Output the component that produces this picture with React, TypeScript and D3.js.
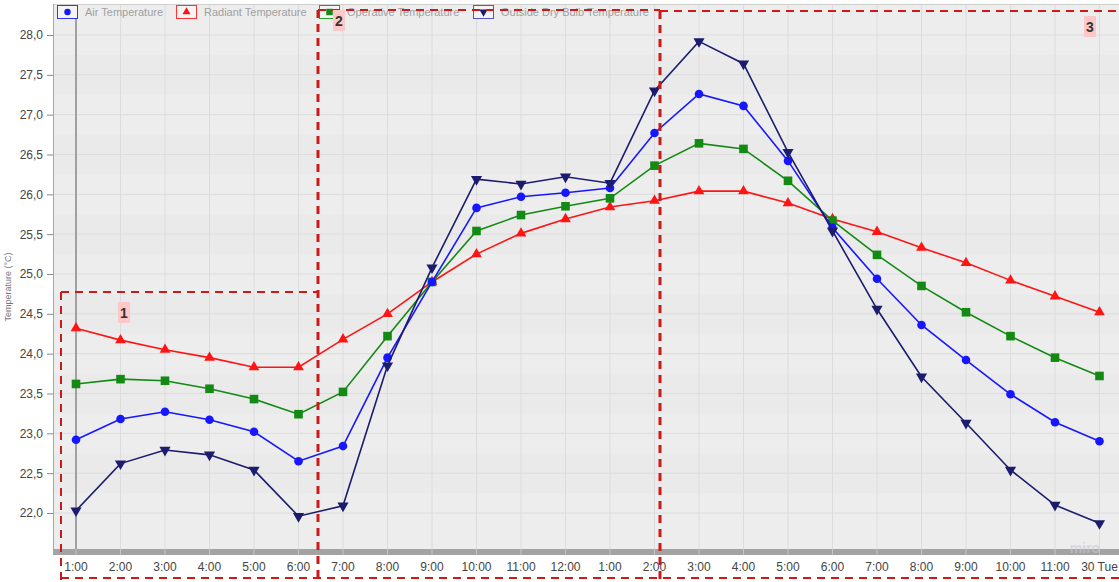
import { useEffect, useRef } from 'react'
import * as d3 from 'd3'

const hours = [
  '1:00', '2:00', '3:00', '4:00', '5:00', '6:00', '7:00', '8:00', '9:00', '10:00', '11:00', '12:00',
  '1:00', '2:00', '3:00', '4:00', '5:00', '6:00', '7:00', '8:00', '9:00', '10:00', '11:00', '30 Tue',
]

const airTemp = [
  22.92, 23.18, 23.27, 23.17, 23.02, 22.65, 22.84, 23.95, 24.9, 25.83, 25.97, 26.02,
  26.08, 26.77, 27.26, 27.11, 26.42, 25.58, 24.94, 24.36, 23.92, 23.49, 23.14, 22.9,
]
const radiantTemp = [
  24.32, 24.17, 24.05, 23.95, 23.83, 23.83, 24.18, 24.5, 24.9, 25.25, 25.51, 25.69,
  25.84, 25.92, 26.04, 26.04, 25.89, 25.69, 25.53, 25.33, 25.14, 24.92, 24.72, 24.52,
]
const operativeTemp = [
  23.62, 23.68, 23.66, 23.56, 23.43, 23.24, 23.52, 24.22, 24.9, 25.54, 25.74, 25.85,
  25.95, 26.36, 26.64, 26.57, 26.17, 25.67, 25.24, 24.85, 24.52, 24.22, 23.95, 23.72,
]
const outsideTemp = [
  22.03, 22.62, 22.79, 22.73, 22.54, 21.96, 22.09, 23.85, 25.08, 26.19, 26.13, 26.22,
  26.14, 27.3, 27.92, 27.64, 26.53, 25.54, 24.56, 23.71, 23.13, 22.54, 22.1, 21.87,
]

const yTicks = [22, 22.5, 23, 23.5, 24, 24.5, 25, 25.5, 26, 26.5, 27, 27.5, 28]

type Marker = 'circle' | 'triangle' | 'square' | 'triangleDown'

const series: { name: string; values: number[]; color: string; legendBorder: string; marker: Marker }[] = [
  { name: 'Radiant Temperature', values: radiantTemp, color: '#ff1414', legendBorder: '#ff3333', marker: 'triangle' },
  { name: 'Operative Temperature', values: operativeTemp, color: '#138a13', legendBorder: '#2aa02a', marker: 'square' },
  { name: 'Air Temperature', values: airTemp, color: '#1717ff', legendBorder: '#3333ff', marker: 'circle' },
  { name: 'Outside Dry Bulb Temperature', values: outsideTemp, color: '#1c1c6e', legendBorder: '#5555cc', marker: 'triangleDown' },
]

const legendOrder = [2, 0, 1, 3]

const W = 1119
const H = 582
const FONT = '"Liberation Sans", Arial, sans-serif'

function drawMarker(g: any, kind: Marker, x: number, y: number, color: string, s = 1) {
  if (kind === 'circle') {
    g.append('circle').attr('cx', x).attr('cy', y).attr('r', 4.3 * s).attr('fill', color)
  } else if (kind === 'square') {
    g.append('rect').attr('x', x - 4.3 * s).attr('y', y - 4.3 * s).attr('width', 8.6 * s).attr('height', 8.6 * s).attr('fill', color)
  } else if (kind === 'triangle') {
    const sym = d3.symbol(d3.symbolTriangle, 50 * s * s)
    g.append('path').attr('d', sym()!).attr('transform', `translate(${x},${y})`).attr('fill', color)
  } else {
    const sym = d3.symbol(d3.symbolTriangle, 54 * s * s)
    g.append('path').attr('d', sym()!).attr('transform', `translate(${x},${y}) rotate(180)`).attr('fill', color)
  }
}

export default function App() {
  const ref = useRef<SVGSVGElement>(null)

  useEffect(() => {
    if (!ref.current) return
    d3.select(ref.current).selectAll('*').remove()
    render(ref.current)
  }, [])

  return (
    <svg
      ref={ref}
      width={W}
      height={H}
      style={{ position: 'absolute', left: 0, top: 0, display: 'block', background: '#fff' }}
    />
  )
}

function render(el: SVGSVGElement) {
  const svg = d3.select(el).style('font-family', FONT)

  const plot = { left: 54, right: W, top: 4, bottom: 549 }

  const x = d3
    .scalePoint<number>()
    .domain(hours.map((_, i) => i))
    .range([76, 1099.5])

  const y = d3.scaleLinear().domain([22, 28]).range([513, 35])

  // Plot background
  svg.append('rect')
    .attr('x', plot.left).attr('y', plot.top)
    .attr('width', plot.right - plot.left).attr('height', plot.bottom - plot.top)
    .attr('fill', '#ededed')

  // faint alternating bands
  yTicks.forEach((t, i) => {
    if (i % 2 === 0) return
    svg.append('rect')
      .attr('x', plot.left).attr('width', plot.right - plot.left)
      .attr('y', y(t + 0.25)).attr('height', y(t - 0.25) - y(t + 0.25))
      .attr('fill', '#eaeaea')
  })

  // Grid
  const grid = svg.append('g')
  yTicks.forEach((t) => {
    grid.append('line')
      .attr('x1', plot.left).attr('x2', plot.right)
      .attr('y1', y(t)).attr('y2', y(t))
      .attr('stroke', '#dcdcdc').attr('stroke-width', 1)
  })
  hours.forEach((_, i) => {
    grid.append('line')
      .attr('x1', x(i)!).attr('x2', x(i)!)
      .attr('y1', plot.top).attr('y2', plot.bottom)
      .attr('stroke', '#dcdcdc').attr('stroke-width', 1)
  })

  // Frame
  svg.append('line')
    .attr('x1', plot.left - 0.5).attr('x2', plot.left - 0.5)
    .attr('y1', plot.top).attr('y2', plot.bottom + 6)
    .attr('stroke', '#a8a8a8')
  svg.append('line')
    .attr('x1', plot.left).attr('x2', plot.right)
    .attr('y1', plot.top + 0.5).attr('y2', plot.top + 0.5)
    .attr('stroke', '#cfcfcf')

  // Bottom axis strip
  svg.append('rect')
    .attr('x', plot.left).attr('y', plot.bottom)
    .attr('width', plot.right - plot.left).attr('height', 6)
    .attr('fill', '#a3a3a3')
  hours.forEach((_, i) => {
    svg.append('line')
      .attr('x1', x(i)!).attr('x2', x(i)!)
      .attr('y1', plot.bottom).attr('y2', plot.bottom + 6)
      .attr('stroke', '#c4c4c4')
  })

  // X labels
  hours.forEach((h, i) => {
    svg.append('text')
      .attr('x', x(i)!).attr('y', 571)
      .attr('text-anchor', 'middle')
      .attr('font-size', 12)
      .attr('fill', '#444')
      .text(h)
  })

  // Y axis
  const yAxis = svg.append('g')
    .attr('transform', `translate(${plot.left - 1},0)`)
    .call(
      d3.axisLeft(y)
        .tickValues(yTicks)
        .tickSize(6)
        .tickPadding(4)
        .tickFormat((v) => d3.format('.1f')(+v).replace('.', ','))
    )
  yAxis.select('.domain').remove()
  yAxis.selectAll('line').attr('stroke', '#888')
  yAxis.selectAll('text')
    .attr('font-size', 12)
    .attr('fill', '#444')
    .attr('font-family', FONT)

  // Y axis title
  svg.append('text')
    .attr('transform', 'rotate(-90)')
    .attr('x', -287).attr('y', 11)
    .attr('text-anchor', 'middle')
    .attr('font-size', 9)
    .attr('fill', '#777')
    .text('Temperature (°C)')

  // Cursor line
  svg.append('line')
    .attr('x1', x(0)!).attr('x2', x(0)!)
    .attr('y1', 18).attr('y2', plot.bottom)
    .attr('stroke', '#8a8a8a').attr('stroke-width', 1.5)

  // Lines + markers
  series.forEach((s) => {
    const line = d3.line<number>().x((_, i) => x(i)!).y((v) => y(v))
    svg.append('path')
      .attr('d', line(s.values)!)
      .attr('fill', 'none')
      .attr('stroke', s.color)
      .attr('stroke-width', 1.6)
    const mg = svg.append('g')
    s.values.forEach((v, i) => drawMarker(mg, s.marker, x(i)!, y(v), s.color))
  })

  // Legend
  const legendX = [57, 176, 319, 473]
  const lg = svg.append('g')
  legendOrder.forEach((si, k) => {
    const s = series[si]
    const lx = legendX[k]
    lg.append('rect')
      .attr('x', lx + 0.5).attr('y', 5.5)
      .attr('width', 20).attr('height', 13)
      .attr('fill', '#f4f4f4')
      .attr('stroke', s.legendBorder)
      .attr('stroke-width', 1)
    drawMarker(lg, s.marker, lx + 10.5, 12, s.color, 0.75)
    lg.append('text')
      .attr('x', lx + 28).attr('y', 15.5)
      .attr('font-size', 11)
      .attr('fill', '#a0a0a0')
      .text(s.name)
  })

  // Annotation boxes
  const red = '#cc1a1a'
  const ann = svg.append('g').attr('fill', 'none').attr('stroke', red)
  const dash = (x1: number, y1: number, x2: number, y2: number, w: number) =>
    ann.append('line')
      .attr('x1', x1).attr('y1', y1).attr('x2', x2).attr('y2', y2)
      .attr('stroke-width', w)
      .attr('stroke-dasharray', '8,6')
  dash(61, 292, 317, 292, 2)
  dash(61, 292, 61, 582, 2)
  dash(318, 10, 660, 10, 2)
  dash(318, 10, 318, 582, 3)
  dash(660, 11, W, 11, 2)
  dash(660, 11, 660, 582, 3)
  dash(61, 578, W, 578, 2)

  // Labels 1,2,3
  const labels = [
    { t: '1', x: 124, y: 313 },
    { t: '2', x: 339, y: 21 },
    { t: '3', x: 1090, y: 27 },
  ]
  labels.forEach((l) => {
    svg.append('rect')
      .attr('x', l.x - 6).attr('y', l.y - 11)
      .attr('width', 12).attr('height', 21)
      .attr('fill', '#ffc8c8')
    svg.append('text')
      .attr('x', l.x).attr('y', l.y + 5)
      .attr('text-anchor', 'middle')
      .attr('font-size', 14)
      .attr('font-weight', 'bold')
      .attr('fill', '#333')
      .text(l.t)
  })

  // watermark
  svg.append('text')
    .attr('x', 1085).attr('y', 553)
    .attr('text-anchor', 'middle')
    .attr('font-size', 14)
    .attr('font-weight', 'bold')
    .attr('fill', '#c8c8d8')
    .attr('opacity', 0.6)
    .text('miro')
}
